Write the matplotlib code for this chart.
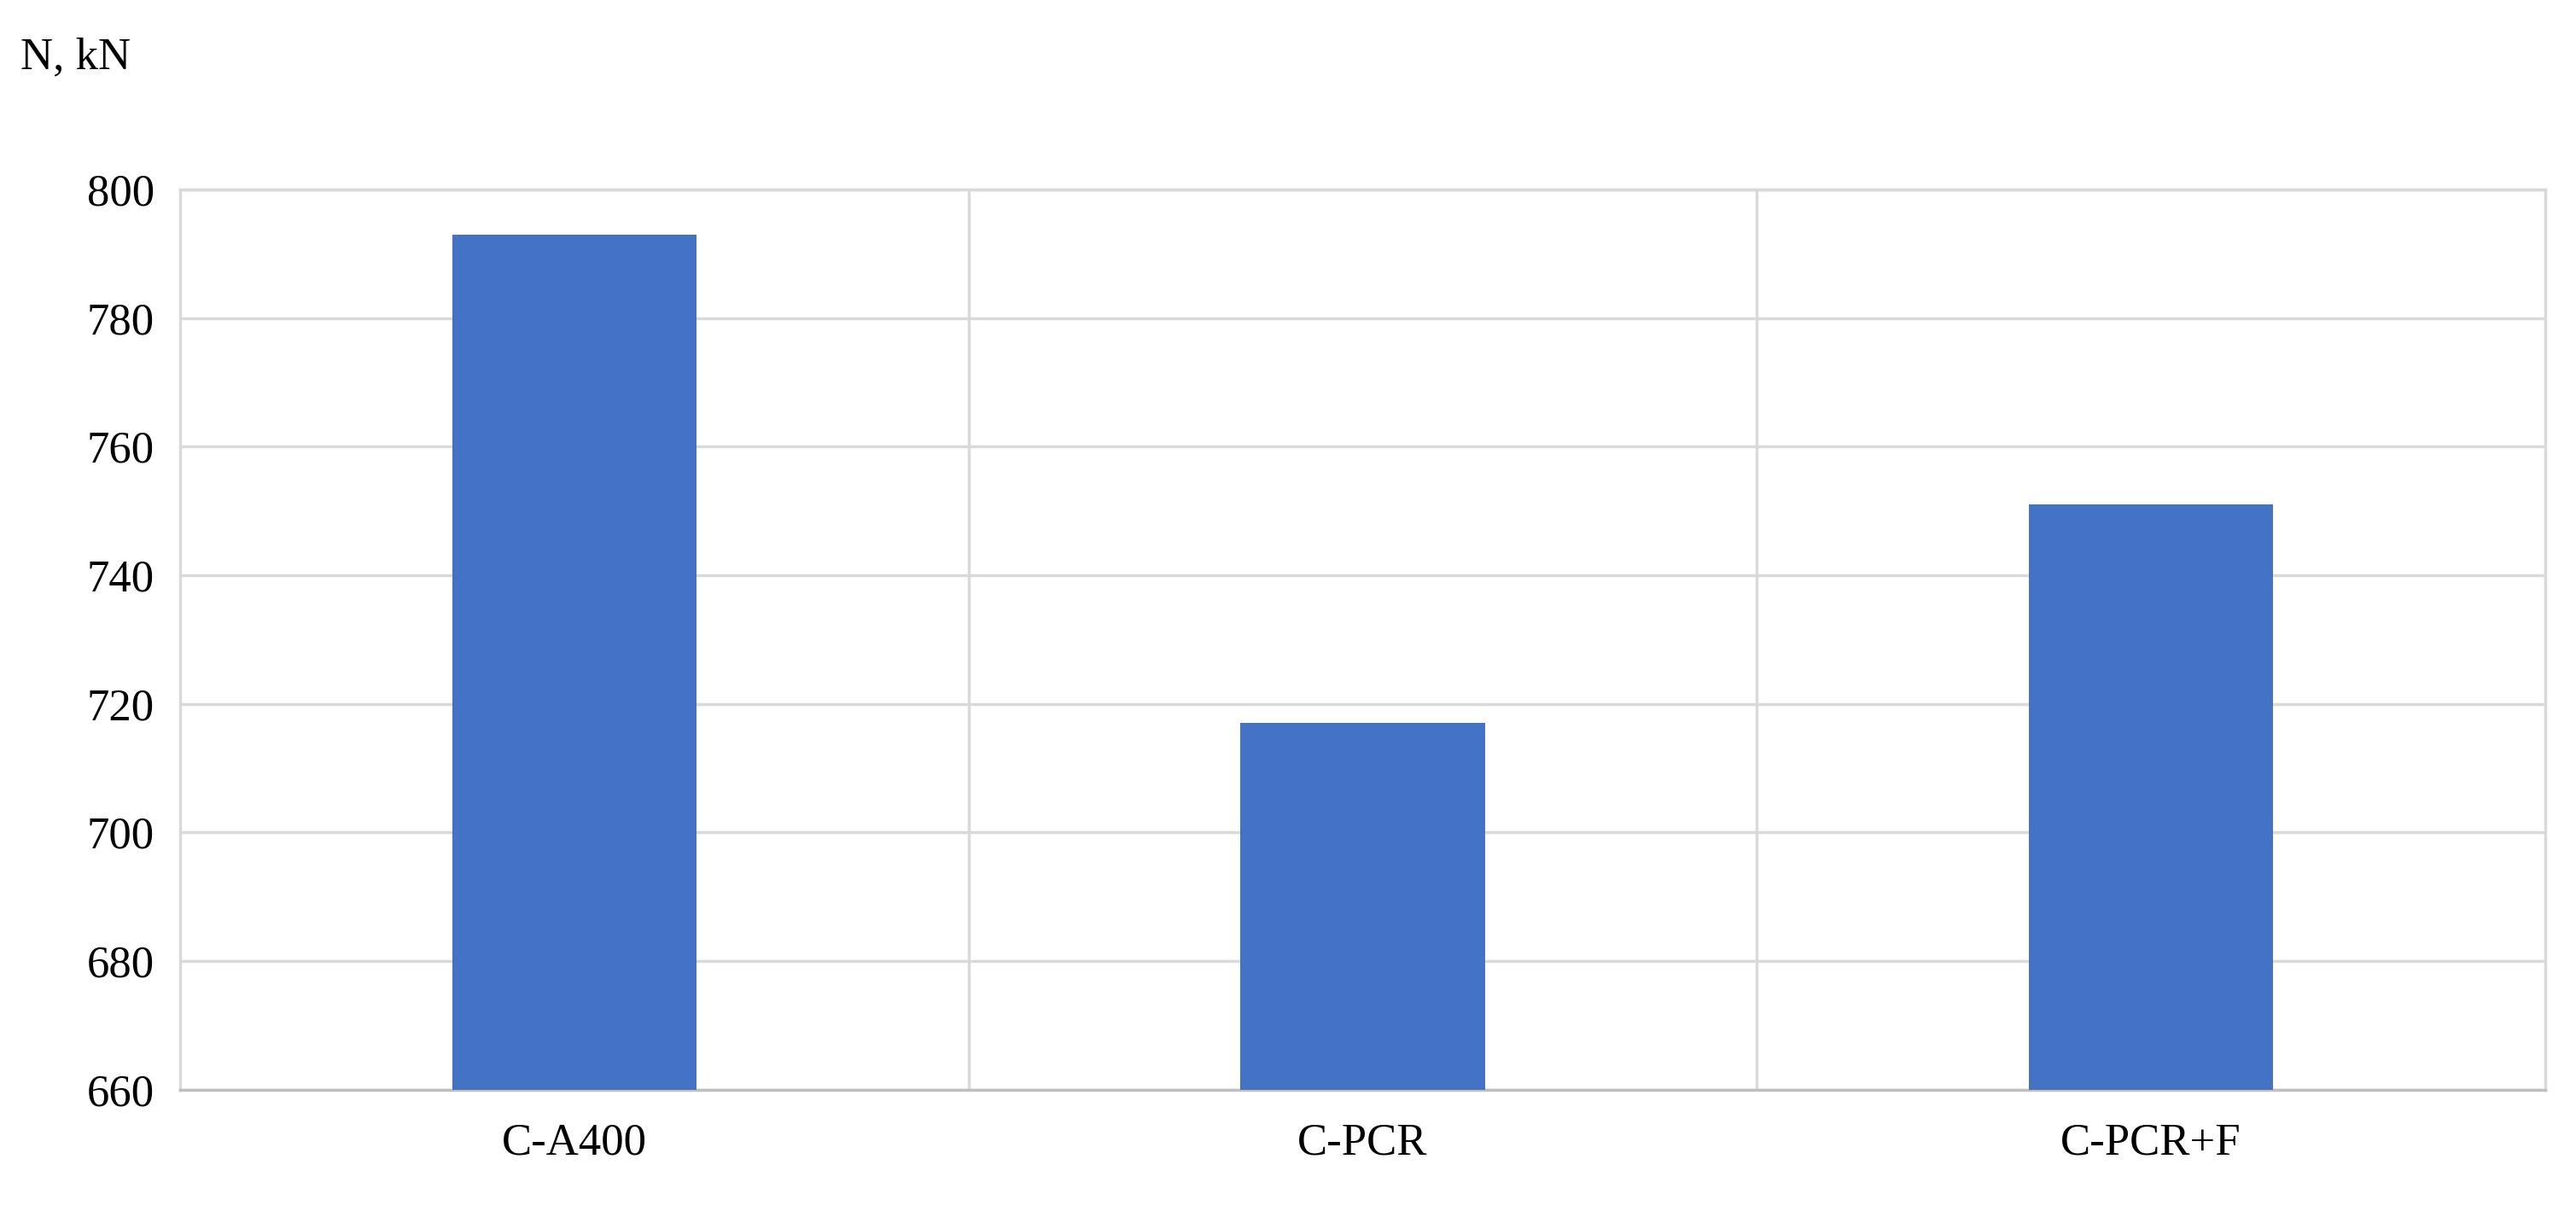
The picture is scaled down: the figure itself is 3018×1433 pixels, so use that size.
import matplotlib
matplotlib.use("Agg")
import matplotlib.pyplot as plt

categories = ["C-A400", "C-PCR", "C-PCR+F"]
values = [793, 717, 751]
y_ticks = [660, 680, 700, 720, 740, 760, 780, 800]

plt.rcParams["font.family"] = ["Liberation Serif", "DejaVu Serif"]

fig = plt.figure(figsize=(30.18, 14.33), dpi=100)
ax = fig.add_axes([0.070, 0.109, 0.918, 0.736])

x = range(len(categories))
ax.bar(x, values, width=0.31, color="#4472c4", zorder=3)

ax.set_xlim(-0.5, len(categories) - 0.5)
ax.set_ylim(660, 800)
ax.set_yticks(y_ticks)
ax.set_xticks(list(x))
ax.set_xticklabels(categories)
ax.tick_params(axis="both", length=0, labelsize=38, colors="black")
ax.tick_params(axis="x", pad=28)
ax.tick_params(axis="y", pad=22)

ax.yaxis.grid(True, color="#d9d9d9", linewidth=2.5, zorder=0)
for b in [0.5, 1.5]:
    ax.axvline(b, color="#d9d9d9", linewidth=2.5, zorder=0)

for side in ["top", "right", "left"]:
    ax.spines[side].set_color("#d9d9d9")
    ax.spines[side].set_linewidth(2.5)
ax.spines["bottom"].set_color("#bfbfbf")
ax.spines["bottom"].set_linewidth(2.5)

fig.text(0.008, 0.953, "N, kN", fontsize=38, va="center", ha="left")

fig.savefig("out.png", dpi=100)
